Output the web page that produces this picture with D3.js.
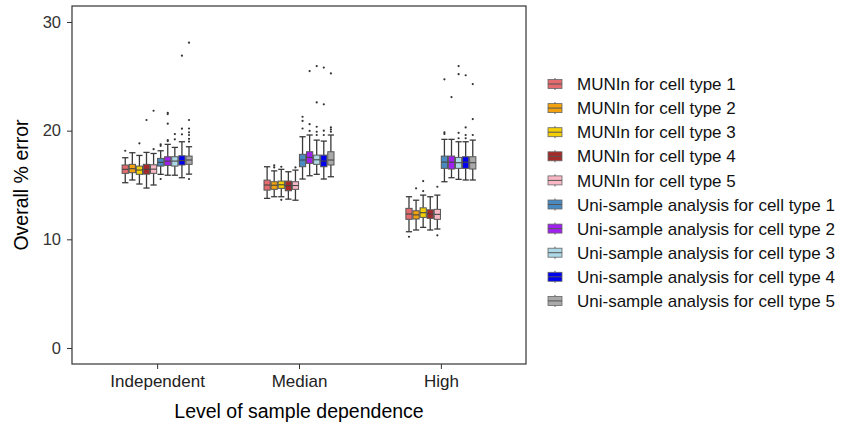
<!DOCTYPE html>
<html>
<head>
<meta charset="utf-8">
<script src="https://cdn.jsdelivr.net/npm/d3@7"></script>
<style>
  html, body { margin: 0; padding: 0; background: #fff; }
  svg { display: block; font-family: "Liberation Sans", Arial, sans-serif; }
</style>
</head>
<body>
<svg id="chart" width="844" height="428"></svg>
<script>
// ---- Data ----
const groups = ["Independent", "Median", "High"];
const seriesNames = [
  "MUNIn for cell type 1", "MUNIn for cell type 2", "MUNIn for cell type 3",
  "MUNIn for cell type 4", "MUNIn for cell type 5",
  "Uni-sample analysis for cell type 1", "Uni-sample analysis for cell type 2",
  "Uni-sample analysis for cell type 3", "Uni-sample analysis for cell type 4",
  "Uni-sample analysis for cell type 5"
];
const seriesColors = ["#E46B6E", "#F2A20E", "#F5CF05", "#A52A2A", "#F9B7C4",
                      "#4A8AC0", "#A020F0", "#ADD8E6", "#0000F0", "#A9A9A9"];
const yTicks = [0, 10, 20, 30];

// box stats per series: [lower whisker, Q1, median, Q3, upper whisker]
const independentStats = [
  [15.21, 16.07, 16.44, 16.84, 17.51],
  [15.46, 16.13, 16.50, 16.90, 17.97],
  [15.09, 15.98, 16.38, 16.74, 17.72],
  [14.72, 16.00, 16.44, 16.90, 18.00],
  [15.00, 16.07, 16.46, 16.86, 17.90],
  [15.98, 16.74, 17.08, 17.45, 18.15],
  [15.90, 16.80, 17.20, 17.60, 18.74],
  [15.90, 16.74, 17.20, 17.60, 18.46],
  [15.67, 16.84, 17.25, 17.69, 18.98],
  [16.00, 16.90, 17.30, 17.66, 18.52]
];
const independentOutliers = [
  [18.15], [], [18.83], [20.98], [18.3, 21.83],
  [18.6, 18.74, 15.55], [19.04, 19.13, 20.64, 21.53, 21.65], [19.2, 19.69],
  [19.66, 20.18, 26.9], [15.55, 19.0, 19.25, 19.6, 19.85, 20.2, 20.98, 28.1]
];
const medianStats = [
  [13.77, 14.53, 15.00, 15.45, 16.68],
  [13.92, 14.60, 14.98, 15.30, 16.30],
  [13.92, 14.69, 15.02, 15.36, 16.44],
  [13.70, 14.47, 14.95, 15.36, 16.22],
  [13.60, 14.60, 14.95, 15.30, 16.37],
  [15.55, 16.68, 17.30, 17.82, 19.44],
  [15.85, 16.99, 17.54, 18.06, 19.60],
  [15.98, 16.90, 17.32, 17.75, 19.13],
  [15.55, 16.68, 17.20, 17.75, 19.04],
  [15.76, 16.84, 17.30, 18.06, 19.60]
];
const medianOutliers = [
  [], [16.62, 16.8], [16.68, 13.64], [], [16.62],
  [20.2, 20.9, 21.28], [19.98, 20.6, 25.48], [19.6, 19.9, 20.36, 22.6, 25.94],
  [19.6, 20.0, 22.42, 25.8], [19.9, 20.1, 20.3, 25.27]
];
const highStats = [
  [10.70, 11.84, 12.33, 12.85, 13.92],
  [10.86, 11.87, 12.25, 12.63, 13.60],
  [11.10, 12.02, 12.45, 12.90, 14.07],
  [10.86, 11.93, 12.33, 12.72, 13.92],
  [10.95, 11.84, 12.30, 12.76, 14.07],
  [15.30, 16.53, 17.11, 17.66, 19.20],
  [15.67, 16.47, 17.10, 17.66, 19.20],
  [15.52, 16.53, 17.05, 17.54, 18.98],
  [15.46, 16.53, 17.10, 17.60, 18.98],
  [15.46, 16.47, 17.05, 17.60, 19.13]
];
const highOutliers = [
  [10.24], [14.69], [14.44, 15.36], [], [14.84, 10.37],
  [19.7, 19.85, 24.72], [23.09], [19.3, 19.8, 25.2, 25.94],
  [19.3, 19.6, 20.3, 25.1], [19.6, 21.07, 24.29]
];

const groupStats = [independentStats, medianStats, highStats];
const groupOutliers = [independentOutliers, medianOutliers, highOutliers];

// ---- Layout ----
const svg = d3.select("#chart");
const panel = { left: 72, right: 526, top: 6, bottom: 364 };

const x = d3.scalePoint().domain(groups)
  .range([panel.left, panel.right]).padding(0.6);
const dodge = d3.scaleBand().domain(seriesNames)
  .range([-35, 35]).paddingInner(0.12);
const y = d3.scaleLinear().domain([-1.47, 31.47]).range([panel.bottom, panel.top]);
const color = d3.scaleOrdinal().domain(seriesNames).range(seriesColors);

// boxes
const records = [];
groups.forEach((g, gi) => {
  seriesNames.forEach((s, si) => {
    const st = groupStats[gi][si];
    records.push({ g, s, lo: st[0], q1: st[1], med: st[2], q3: st[3], hi: st[4],
                   out: groupOutliers[gi][si] });
  });
});

const bw = dodge.bandwidth();
const boxG = svg.append("g");
const items = boxG.selectAll("g.box").data(records).join("g")
  .attr("transform", d => `translate(${x(d.g) + dodge(d.s)},0)`);

// whiskers
items.append("line")
  .attr("x1", bw / 2).attr("x2", bw / 2)
  .attr("y1", d => y(d.hi)).attr("y2", d => y(d.q3))
  .attr("stroke", "#3a3a3a").attr("stroke-width", 1.3);
items.append("line")
  .attr("x1", bw / 2).attr("x2", bw / 2)
  .attr("y1", d => y(d.q1)).attr("y2", d => y(d.lo))
  .attr("stroke", "#3a3a3a").attr("stroke-width", 1.3);
// caps
items.append("line")
  .attr("x1", 0).attr("x2", bw)
  .attr("y1", d => y(d.hi)).attr("y2", d => y(d.hi))
  .attr("stroke", "#3a3a3a").attr("stroke-width", 1.3);
items.append("line")
  .attr("x1", 0).attr("x2", bw)
  .attr("y1", d => y(d.lo)).attr("y2", d => y(d.lo))
  .attr("stroke", "#3a3a3a").attr("stroke-width", 1.3);
// box
items.append("rect")
  .attr("x", 0).attr("width", bw)
  .attr("y", d => y(d.q3)).attr("height", d => y(d.q1) - y(d.q3))
  .attr("fill", d => color(d.s)).attr("stroke", "#555").attr("stroke-width", 1);
// median
items.append("line")
  .attr("x1", 0).attr("x2", bw)
  .attr("y1", d => y(d.med)).attr("y2", d => y(d.med))
  .attr("stroke", "#444").attr("stroke-width", 1.1);
// outliers
items.selectAll("circle").data(d => d.out).join("circle")
  .attr("cx", bw / 2).attr("cy", v => y(v)).attr("r", 1.1)
  .attr("fill", "#333");

// panel border
svg.append("rect")
  .attr("x", panel.left).attr("y", panel.top)
  .attr("width", panel.right - panel.left).attr("height", panel.bottom - panel.top)
  .attr("fill", "none").attr("stroke", "#333").attr("stroke-width", 1.2);

// axes
const yAxis = svg.append("g").attr("transform", `translate(${panel.left},0)`)
  .call(d3.axisLeft(y).tickValues(yTicks).tickSize(5).tickPadding(6));
yAxis.select(".domain").remove();
yAxis.selectAll("line").attr("stroke", "#333");
yAxis.selectAll("text").attr("font-size", 16.5).attr("fill", "#333")
  .attr("font-family", "Liberation Sans, Arial, sans-serif");

const xAxis = svg.append("g").attr("transform", `translate(0,${panel.bottom})`)
  .call(d3.axisBottom(x).tickSize(5).tickPadding(6));
xAxis.select(".domain").remove();
xAxis.selectAll("line").attr("stroke", "#333");
xAxis.selectAll("text").attr("font-size", 17).attr("fill", "#222")
  .attr("font-family", "Liberation Sans, Arial, sans-serif");

// titles
svg.append("text")
  .attr("x", (panel.left + panel.right) / 2).attr("y", 418)
  .attr("text-anchor", "middle").attr("font-size", 19.5).attr("fill", "#000")
  .text("Level of sample dependence");
svg.append("text")
  .attr("transform", `translate(28,${(panel.top + panel.bottom) / 2}) rotate(-90)`)
  .attr("text-anchor", "middle").attr("font-size", 19.5).attr("fill", "#000")
  .text("Overall % error");

// legend
const legend = svg.append("g").attr("transform", "translate(548,84)");
const li = legend.selectAll("g").data(seriesNames).join("g")
  .attr("transform", (d, i) => `translate(0,${i * 24.1})`);
li.append("line").attr("x1", 7).attr("x2", 7).attr("y1", -6).attr("y2", 6)
  .attr("stroke", "#555").attr("stroke-width", 1);
li.append("rect").attr("x", 0).attr("y", -4.5).attr("width", 14).attr("height", 9)
  .attr("fill", d => color(d)).attr("stroke", "#666").attr("stroke-width", 0.8);
li.append("line").attr("x1", 0).attr("x2", 14).attr("y1", 0).attr("y2", 0)
  .attr("stroke", "#555").attr("stroke-width", 1);
li.append("text").attr("x", 29).attr("y", 0).attr("dy", "0.36em")
  .attr("font-size", 17).attr("fill", "#111").text(d => d);
</script>
</body>
</html>
